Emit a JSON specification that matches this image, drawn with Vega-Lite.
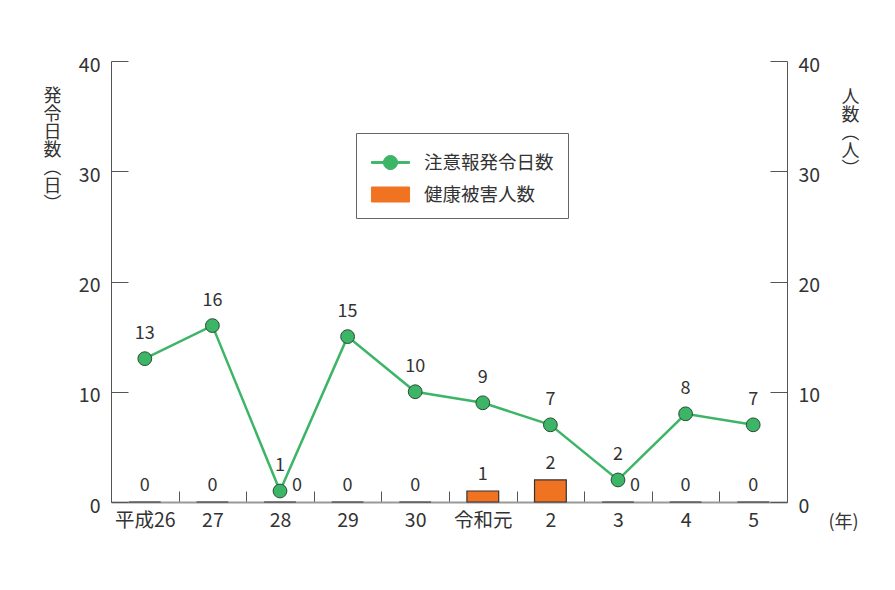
{
  "$schema": "https://vega.github.io/schema/vega-lite/v6.json",
  "width": 676,
  "height": 441,
  "autosize": {"type": "none"},
  "padding": {"left": 111, "top": 61, "right": 108, "bottom": 88},
  "background": "#ffffff",
  "config": {
    "font": "Noto Sans CJK JP",
    "view": {"stroke": null},
    "axis": {"labelColor": "#333333", "titleColor": "#333333", "labelFont": "Noto Sans CJK JP", "titleFont": "Noto Sans CJK JP", "grid": false, "titleFontWeight": "normal"},
    "legend": {"labelFont": "Noto Sans CJK JP"}
  },
  "data": {
    "values": [
      {"year": "平成26", "days": 13, "people": 0},
      {"year": "27", "days": 16, "people": 0},
      {"year": "28", "days": 1, "people": 0},
      {"year": "29", "days": 15, "people": 0},
      {"year": "30", "days": 10, "people": 0},
      {"year": "令和元", "days": 9, "people": 1},
      {"year": "2", "days": 7, "people": 2},
      {"year": "3", "days": 2, "people": 0},
      {"year": "4", "days": 8, "people": 0},
      {"year": "5", "days": 7, "people": 0}
    ]
  },
  "encoding": {
    "x": {
      "field": "year", "type": "nominal", "sort": null,
      "scale": {"paddingInner": 0, "paddingOuter": 0},
      "axis": {
        "labelAngle": 0, "labelFontSize": 19.5, "labelPadding": 20,
        "tickBand": "extent", "tickSize": -11, "tickColor": "#555555",
        "domainColor": "#999999", "domainWidth": 2,
        "title": "(年)", "titleFontSize": 18, "titleX": 732, "titleY": 20,
        "titleAlign": "center", "titleBaseline": "middle", "titleAnchor": null
      }
    }
  },
  "layer": [
    {
      "encoding": {
        "y": {
          "field": "days", "type": "quantitative",
          "scale": {"domain": [0, 40], "nice": false},
          "axis": {
            "orient": "left", "values": [0, 10, 20, 30, 40],
            "tickSize": -17, "tickColor": "#555555", "domainColor": "#555555",
            "labelFontSize": 19.5, "labelPadding": 28, "labelOffset": 4,
            "title": ["発", "令", "日", "数", "︵", "日", "︶"],
            "titleAngle": 0, "titleFontSize": 18, "titleLineHeight": 18,
            "titleX": -59, "titleY": 26, "titleAlign": "center", "titleBaseline": "top"
          }
        }
      },
      "layer": [
        {
          "mark": {"type": "line", "strokeWidth": 2.5},
          "encoding": {
            "color": {
              "datum": "注意報発令日数", "type": "nominal",
              "scale": {"domain": ["注意報発令日数", "健康被害人数"], "range": ["#3db567", "#f07322"]},
              "legend": {
                "title": null, "orient": "none", "legendX": 245, "legendY": 72,
                "strokeColor": "#666666", "fillColor": "#ffffff", "padding": 14,
                "labelFontSize": 18.5, "labelColor": "#333333",
                "symbolSize": 900, "symbolOffset": 5, "labelOffset": 18, "rowPadding": 7,
                "encode": {
                  "symbols": {
                    "update": {
                      "shape": {"signal": "datum.value === '注意報発令日数' ? 'M-1.27,-0.06H-0.45V0.06H-1.27Z M0.45,-0.06H1.27V0.06H0.45Z M0.47,0A0.47,0.47 0 1,1 -0.47,0A0.47,0.47 0 1,1 0.47,0Z' : 'M-1.27,-0.5H1.27V0.5H-1.27Z'"},
                      "fill": {"signal": "datum.value === '注意報発令日数' ? '#3db567' : '#f07322'"},
                      "stroke": {"signal": "datum.value === '注意報発令日数' ? '#2f6b42' : '#333333'"},
                      "strokeWidth": {"value": 1},
                      "opacity": {"value": 1}
                    }
                  }
                }
              }
            }
          }
        },
        {
          "mark": {"type": "point", "filled": true, "size": 190, "stroke": "#2b4a34", "strokeWidth": 1, "opacity": 1},
          "encoding": {"color": {"datum": "注意報発令日数", "type": "nominal"}}
        },
        {
          "mark": {"type": "text", "fontSize": 18, "color": "#333333", "baseline": "alphabetic", "dy": -20},
          "encoding": {"text": {"field": "days", "type": "quantitative"}}
        }
      ]
    },
    {
      "encoding": {
        "y": {
          "field": "people", "type": "quantitative",
          "scale": {"domain": [0, 40], "nice": false},
          "axis": {
            "orient": "right", "values": [0, 10, 20, 30, 40],
            "tickSize": -17, "tickColor": "#555555", "domainColor": "#555555",
            "labelFontSize": 19.5, "labelPadding": 28, "labelOffset": 4,
            "title": ["人", "数", "︵", "人", "︶"],
            "titleAngle": 0, "titleFontSize": 18, "titleLineHeight": 18,
            "titleX": 63, "titleY": 27, "titleAlign": "center", "titleBaseline": "top"
          }
        }
      },
      "layer": [
        {
          "mark": {"type": "bar", "width": {"band": 0.47}, "stroke": "#333333", "strokeWidth": 1.2},
          "encoding": {"color": {"datum": "健康被害人数", "type": "nominal"}}
        },
        {
          "transform": [{"filter": "datum.days > 2"}],
          "mark": {"type": "text", "fontSize": 18, "color": "#333333", "baseline": "alphabetic", "dy": -11},
          "encoding": {"text": {"field": "people", "type": "quantitative"}}
        },
        {
          "transform": [{"filter": "datum.days <= 2"}],
          "mark": {"type": "text", "fontSize": 18, "color": "#333333", "baseline": "alphabetic", "dy": -11, "dx": 17},
          "encoding": {"text": {"field": "people", "type": "quantitative"}}
        }
      ]
    }
  ],
  "resolve": {"scale": {"y": "independent"}}
}
